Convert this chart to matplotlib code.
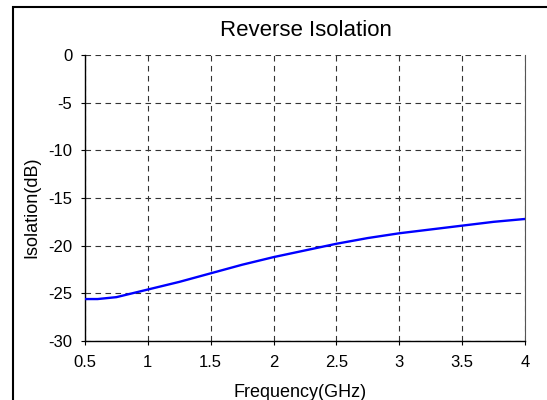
import matplotlib
matplotlib.use('Agg')
import matplotlib.pyplot as plt
from matplotlib.patches import Rectangle

plt.rcParams['font.family'] = ['Liberation Sans', 'DejaVu Sans']

## Reverse isolation sweep ##
freq_ghz = [0.5, 0.6, 0.75, 1.0, 1.25, 1.5, 1.75, 2.0, 2.25, 2.5, 2.75, 3.0, 3.25, 3.5, 3.75, 4.0]
isolation_db = [-25.6, -25.6, -25.4, -24.6, -23.8, -22.9, -22.0, -21.2, -20.5, -19.8, -19.2, -18.7, -18.3, -17.9, -17.5, -17.2]

x_ticks = [0.5, 1, 1.5, 2, 2.5, 3, 3.5, 4]
x_tick_labels = ['0.5', '1', '1.5', '2', '2.5', '3', '3.5', '4']
y_ticks = [-30, -25, -20, -15, -10, -5, 0]
y_tick_labels = ['-30', '-25', '-20', '-15', '-10', '-5', '0']

W, H = 547, 400
fig = plt.figure(figsize=(W / 100, H / 100), dpi=100)
ax = fig.add_axes([85 / W, (H - 341) / H, 440 / W, 286 / H])

ax.plot(freq_ghz, isolation_db, color='#0000ff', lw=1.7, zorder=3)

ax.set_xlim(0.5, 4)
ax.set_ylim(-30, 0)
ax.set_xticks(x_ticks)
ax.set_xticklabels(x_tick_labels)
ax.set_yticks(y_ticks)
ax.set_yticklabels(y_tick_labels)
ax.tick_params(direction='out', length=3, width=0.8, labelsize=12, colors='black')
ax.tick_params(axis='x', pad=7)
ax.tick_params(axis='y', pad=6)

ax.grid(True, color='#333333', linestyle=(0, (5, 4)), linewidth=0.8)
ax.spines['top'].set_visible(False)
ax.spines['right'].set_color('#555555')
ax.spines['left'].set_linewidth(1.0)
ax.spines['bottom'].set_linewidth(1.0)

fig.text(306 / W, (H - 36) / H, 'Reverse Isolation', fontsize=16, ha='center', va='baseline')
fig.text(300 / W, (H - 397) / H, 'Frequency(GHz)', fontsize=13, ha='center', va='baseline')
fig.text(36 / W, (H - 207.5) / H, 'Isolation(dB)', fontsize=13, rotation=90,
         rotation_mode='anchor', ha='center', va='baseline')

# outer frame
fig.patches.append(Rectangle((12.5 / W, -0.1), 1.0, (H - 6.5) / H + 0.1,
                             transform=fig.transFigure, fill=False, lw=1.5,
                             edgecolor='black', clip_on=False))

fig.savefig('out.png', dpi=100)
